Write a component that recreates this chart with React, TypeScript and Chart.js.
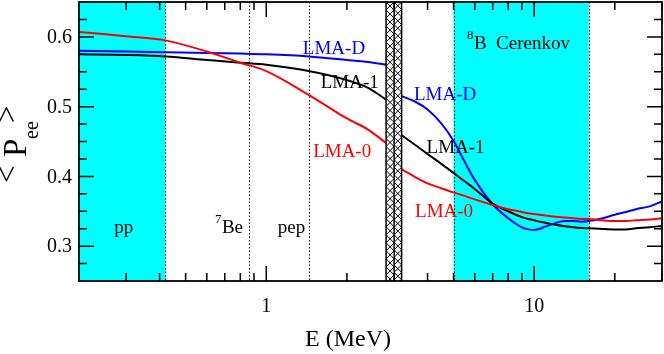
import React, { useEffect, useRef } from "react";
import { Chart, registerables } from "chart.js";

Chart.register(...registerables);

// ---- data ----
const ENERGY = [0.2, 0.3, 0.42, 0.6, 0.8, 1.0, 1.44, 2.0, 2.4, 2.8, 3.0, 3.2, 3.6, 4.0, 4.5, 5.0, 5.5, 6.0, 7.0, 8.0, 9.0, 9.5, 10, 10.5, 11, 12, 13, 14, 15, 16, 18, 20, 22, 24, 27, 30];
const LMA_0 = [0.607, 0.601, 0.595, 0.579, 0.563, 0.551, 0.517, 0.483, 0.467, 0.448, null, 0.410, 0.399, 0.390, 0.383, 0.377, 0.372, 0.367, 0.359, 0.353, 0.349, 0.347, 0.346, 0.345, 0.344, 0.342, 0.341, 0.340, 0.339, 0.339, 0.337, 0.336, 0.336, 0.337, 0.338, 0.340];
const LMA_1 = [0.575, 0.574, 0.572, 0.567, 0.563, 0.560, 0.551, 0.538, 0.527, 0.510, null, 0.459, 0.445, 0.432, 0.418, 0.405, 0.393, 0.382, 0.361, 0.350, 0.3415, 0.339, 0.337, 0.335, 0.3335, 0.3305, 0.3285, 0.327, 0.326, 0.3255, 0.3245, 0.324, 0.324, 0.3255, 0.327, 0.329];
const LMA_D = [0.580, 0.579, 0.578, 0.577, 0.576, 0.575, 0.572, 0.567, 0.564, 0.560, null, 0.515, 0.507, 0.496, 0.476, 0.451, 0.421, 0.395, 0.360, 0.340, 0.327, 0.324, 0.323, 0.325, 0.328, 0.333, 0.336, 0.336, 0.335, 0.336, 0.340, 0.345, 0.349, 0.353, 0.357, 0.364];

const X_MAJOR = [1, 10];
const X_MAJOR_LABELS = ["1", "10"];
const X_MINOR = [0.3, 0.4, 0.5, 0.6, 0.7, 0.8, 0.9, 2, 3, 4, 5, 6, 7, 8, 9, 20, 30];
const Y_MAJOR = [0.3, 0.4, 0.5, 0.6];
const Y_MAJOR_LABELS = ["0.3", "0.4", "0.5", "0.6"];
const Y_MINOR = [0.275, 0.325, 0.35, 0.375, 0.425, 0.45, 0.475, 0.525, 0.55, 0.575, 0.625];

const BANDS = [[0.2, 0.42], [5, 16]];
const DOTTED = [0.42, 0.862, 1.44, 5, 16];
const HATCH = [2.8, 3.0, 3.2];

// annotation anchors in data coords [E, P]
const TEXTS = [
  { t: "LMA-D", e: 1.79, p: 0.575, c: "#0000ff" },
  { t: "LMA-1", e: 2.05, p: 0.527, c: "#000000" },
  { t: "LMA-0", e: 1.92, p: 0.428, c: "#ff0000" },
  { t: "LMA-D", e: 4.65, p: 0.510, c: "#0000ff" },
  { t: "LMA-1", e: 5.09, p: 0.434, c: "#000000" },
  { t: "LMA-0", e: 4.61, p: 0.342, c: "#ff0000" },
  { t: "pp", e: 0.294, p: 0.319, c: "#000000" },
  { t: "pep", e: 1.242, p: 0.319, c: "#000000" },
];
const SUP_TEXTS = [
  { sup: "7", t: "Be", e: 0.643, p: 0.319 },
  { sup: "8", t: "B  Cerenkov", e: 5.61, p: 0.582 },
];

const SERIF = "'Liberation Serif', 'Times New Roman', serif";

const decor = {
  id: "decor",
  beforeDatasetsDraw(chart: any) {
    const { ctx, chartArea, scales } = chart;
    const { top, bottom } = chartArea;
    const x = scales.x;
    ctx.save();
    ctx.fillStyle = "#00ffff";
    for (const [a, b] of BANDS) {
      const xa = x.getPixelForValue(a);
      const xb = x.getPixelForValue(b);
      ctx.fillRect(xa, top, xb - xa, bottom - top);
    }
    ctx.strokeStyle = "#000";
    ctx.lineWidth = 1;
    ctx.setLineDash([1.5, 2]);
    for (const v of DOTTED) {
      const px = Math.round(x.getPixelForValue(v)) + 0.5;
      ctx.beginPath();
      ctx.moveTo(px, top);
      ctx.lineTo(px, bottom);
      ctx.stroke();
    }
    ctx.restore();
  },
  afterDatasetsDraw(chart: any) {
    const { ctx, chartArea, scales } = chart;
    const { left, right, top, bottom } = chartArea;
    const x = scales.x;
    const y = scales.y;
    ctx.save();

    // hatched excluded region
    const hx = HATCH.map((v) => x.getPixelForValue(v));
    ctx.fillStyle = "#fff";
    ctx.fillRect(hx[0], top, hx[2] - hx[0], bottom - top);
    for (let k = 0; k < 2; k++) {
      const x0 = hx[k];
      const x1 = hx[k + 1];
      const w = x1 - x0;
      ctx.save();
      ctx.beginPath();
      ctx.rect(x0, top, w, bottom - top);
      ctx.clip();
      ctx.strokeStyle = "#000";
      ctx.lineWidth = 1;
      ctx.beginPath();
      for (let yy = top - w; yy < bottom + w; yy += w) {
        ctx.moveTo(x0, yy);
        ctx.lineTo(x1, yy + w);
        ctx.moveTo(x1, yy);
        ctx.lineTo(x0, yy + w);
      }
      ctx.stroke();
      ctx.restore();
    }
    ctx.strokeStyle = "#000";
    ctx.lineWidth = 1.5;
    for (const px of hx) {
      ctx.beginPath();
      ctx.moveTo(px, top);
      ctx.lineTo(px, bottom);
      ctx.stroke();
    }

    // frame
    ctx.lineWidth = 1.8;
    ctx.strokeRect(left, top, right - left, bottom - top);

    // ticks
    ctx.lineWidth = 1.5;
    const tickX = (v: number, len: number) => {
      const px = x.getPixelForValue(v);
      ctx.beginPath();
      ctx.moveTo(px, bottom);
      ctx.lineTo(px, bottom - len);
      ctx.moveTo(px, top);
      ctx.lineTo(px, top + len);
      ctx.stroke();
    };
    const tickY = (v: number, len: number) => {
      const py = y.getPixelForValue(v);
      ctx.beginPath();
      ctx.moveTo(left, py);
      ctx.lineTo(left + len, py);
      ctx.moveTo(right, py);
      ctx.lineTo(right - len, py);
      ctx.stroke();
    };
    X_MAJOR.forEach((v) => tickX(v, 15));
    X_MINOR.forEach((v) => tickX(v, 8));
    Y_MAJOR.forEach((v) => tickY(v, 15));
    Y_MINOR.forEach((v) => tickY(v, 8));

    // tick labels
    ctx.fillStyle = "#000";
    ctx.font = `20px ${SERIF}`;
    ctx.textAlign = "center";
    ctx.textBaseline = "alphabetic";
    X_MAJOR.forEach((v, i) => {
      ctx.fillText(X_MAJOR_LABELS[i], x.getPixelForValue(v), bottom + 31);
    });
    ctx.textAlign = "right";
    ctx.textBaseline = "middle";
    Y_MAJOR.forEach((v, i) => {
      ctx.fillText(Y_MAJOR_LABELS[i], left - 7, y.getPixelForValue(v) + 1);
    });

    // annotations
    ctx.textBaseline = "alphabetic";
    ctx.textAlign = "center";
    ctx.font = `19px ${SERIF}`;
    for (const a of TEXTS) {
      ctx.fillStyle = a.c;
      ctx.fillText(a.t, x.getPixelForValue(a.e), y.getPixelForValue(a.p));
    }
    ctx.fillStyle = "#000";
    ctx.textAlign = "left";
    for (const a of SUP_TEXTS) {
      const px = x.getPixelForValue(a.e);
      const py = y.getPixelForValue(a.p);
      ctx.font = `13px ${SERIF}`;
      ctx.fillText(a.sup, px, py - 10);
      const sw = ctx.measureText(a.sup).width;
      ctx.font = `19px ${SERIF}`;
      ctx.fillText(a.t, px + sw + 0.5, py);
    }

    // axis titles
    ctx.font = `24px ${SERIF}`;
    ctx.textAlign = "center";
    ctx.fillText("E (MeV)", 348, 346);

    const rot = (t: string, px: number, py: number, font: string) => {
      ctx.save();
      ctx.translate(px, py);
      ctx.rotate(-Math.PI / 2);
      ctx.font = font;
      ctx.textAlign = "left";
      ctx.textBaseline = "alphabetic";
      ctx.fillText(t, 0, 0);
      ctx.restore();
    };
    rot("<", 17, 183, `31px ${SERIF}`);
    rot("P", 26, 157, `33px ${SERIF}`);
    rot("ee", 38, 139, `20px ${SERIF}`);
    rot(">", 17, 123, `31px ${SERIF}`);

    ctx.restore();
  },
};

const series = (vals: (number | null)[]) => ENERGY.map((e, i) => ({ x: e, y: vals[i] }));

export default function App() {
  const ref = useRef<HTMLCanvasElement | null>(null);
  useEffect(() => {
    if (!ref.current) return;
    const common = {
      borderWidth: 2,
      pointRadius: 0,
      cubicInterpolationMode: "monotone" as const,
      spanGaps: false,
      fill: false,
    };
    const chart = new Chart(ref.current, {
      type: "line",
      data: {
        datasets: [
          { label: "LMA-0", data: series(LMA_0), borderColor: "#ff0000", ...common },
          { label: "LMA-1", data: series(LMA_1), borderColor: "#000000", ...common },
          { label: "LMA-D", data: series(LMA_D), borderColor: "#0000ff", ...common },
        ],
      },
      options: {
        animation: false,
        responsive: false,
        devicePixelRatio: 1,
        layout: { padding: { left: 79, top: 2, right: 2, bottom: 73 } },
        plugins: { legend: { display: false }, tooltip: { enabled: false } },
        scales: {
          x: { type: "logarithmic", min: 0.2, max: 30, display: false },
          y: { type: "linear", min: 0.25, max: 0.65, display: false },
        },
      },
      plugins: [decor],
    });
    return () => chart.destroy();
  }, []);
  return (
    <div style={{ position: "absolute", left: 0, top: 0, width: 664, height: 354, background: "#fff" }}>
      <canvas ref={ref} width={664} height={354} style={{ display: "block" }} />
    </div>
  );
}
